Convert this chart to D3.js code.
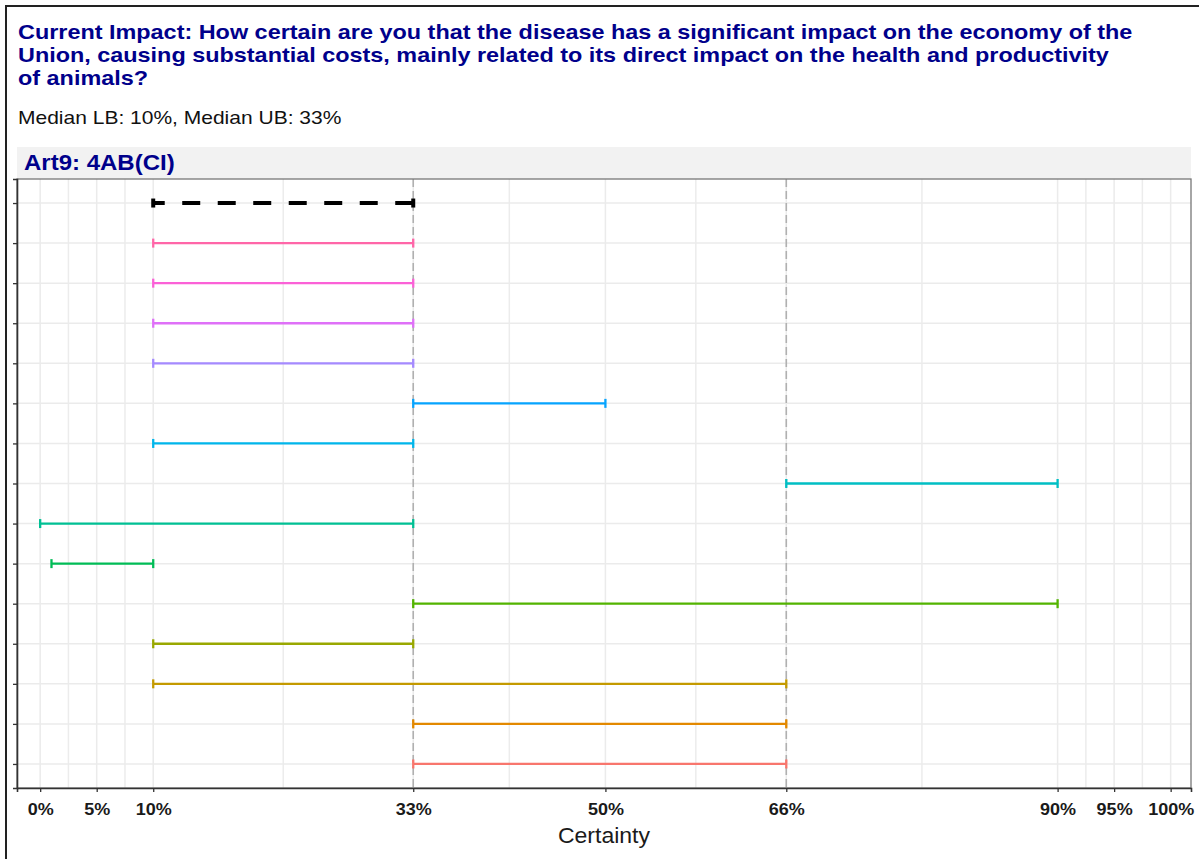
<!DOCTYPE html>
<html><head><meta charset="utf-8">
<script src="https://cdn.jsdelivr.net/npm/d3@7"></script>
<style>body{margin:0;background:#fff}svg{display:block;font-family:"Liberation Sans",Arial,sans-serif}</style>
</head><body>
<svg id="chart" width="1199" height="859"></svg>
<script>
// ---- data ----
const titleLines = [
  "Current Impact: How certain are you that the disease has a significant impact on the economy of the",
  "Union, causing substantial costs, mainly related to its direct impact on the health and productivity",
  "of animals?"
];
const subtitle = "Median LB: 10%, Median UB: 33%";
const stripLabel = "Art9: 4AB(CI)";
const experts = ["E1","E2","E3","E4","E5","E6","E7","E8","E9","E10","E11","E12","E13","E14"];
const lowerBounds = [33,33,10,10,33,1,0,66,10,33,10,10,10,10];
const upperBounds = [66,66,66,33,90,10,33,90,33,50,33,33,33,33];
const medianLB = 10, medianUB = 33;
const xTicks = [0,5,10,33,50,66,90,95,100];
const refLines = [33,66];
const xTitle = "Certainty";

// ggplot-style hue palette (polar LUV)
function hclLuv(h, c, l) {
  const Xn=95.047, Yn=100, Zn=108.883;
  const hr=h*Math.PI/180, u=c*Math.cos(hr), v=c*Math.sin(hr);
  const Y = l>8 ? Yn*Math.pow((l+16)/116,3) : Yn*l/903.3;
  const d=Xn+15*Yn+3*Zn, u0=4*Xn/d, v0=9*Yn/d;
  const up=u/(13*l)+u0, vp=v/(13*l)+v0;
  const X=9*Y*up/(4*vp), Z=-X/3-5*Y+3*Y/vp;
  const x=X/100,y=Y/100,z=Z/100;
  const lin=[3.240479*x-1.537150*y-0.498535*z, -0.969256*x+1.875992*y+0.041556*z, 0.055648*x-0.204043*y+1.057311*z];
  const g=lin.map(t=>{t=t>0.00304?1.055*Math.pow(t,1/2.4)-0.055:12.92*t;return Math.round(255*Math.max(0,Math.min(1,t)));});
  return d3.rgb(g[0],g[1],g[2]).formatHex();
}
const n = experts.length;
const palette = d3.range(n).map(i => hclLuv(15 + 360*i/n, 100, 65));

const rows = experts.map((e,i)=>({id:e, lo:lowerBounds[i], hi:upperBounds[i], color:palette[i], median:false}));
rows.push({id:"Median", lo:medianLB, hi:medianUB, color:"#000", median:true});

// horizontally stretch text (reference glyphs are wider than tall)
function stretch(sel, k) {
  sel.each(function(){
    const len = this.getComputedTextLength();
    d3.select(this).attr("textLength", len*k).attr("lengthAdjust","spacingAndGlyphs");
  });
}

// ---- layout ----
const svg = d3.select("#chart");
svg.append("rect").attr("width",1199).attr("height",859).attr("fill","#fff");
// outer frame (left and top)
svg.append("path").attr("d","M6,859V6H1199").attr("fill","none").attr("stroke","#222").attr("stroke-width",2);

const P = {left:17, right:1191, top:179, bottom:788};
const x = d3.scaleLinear().domain([-2.05,101.8]).range([P.left,P.right]);
const y = d3.scalePoint().domain(rows.map(r=>r.id).reverse()).range([P.top,P.bottom]).padding(0.6);

// titles
const navy = "#00008B";
svg.append("g").selectAll("text").data(titleLines).join("text")
  .attr("x",18).attr("y",(d,i)=>39+i*23).attr("fill",navy)
  .attr("font-weight","bold").attr("font-size",20.5).text(d=>d)
  .call(stretch, 23.4/20.5);
svg.append("text").attr("x",18).attr("y",124).attr("font-size",19).attr("fill","#111").text(subtitle)
  .call(stretch, 21/19);

// strip
svg.append("rect").attr("x",P.left).attr("y",147).attr("width",P.right-P.left).attr("height",P.top-147).attr("fill","#f2f2f2");
svg.append("text").attr("x",24).attr("y",170).attr("fill",navy).attr("font-weight","bold").attr("font-size",22).text(stripLabel)
  .call(stretch, 24/22);

// grid
const minor = [];
for (let i=0;i<xTicks.length-1;i++) minor.push((xTicks[i]+xTicks[i+1])/2);
const grid = svg.append("g");
grid.selectAll(".vmin").data(minor).join("line")
  .attr("x1",d=>x(d)).attr("x2",d=>x(d)).attr("y1",P.top).attr("y2",P.bottom)
  .attr("stroke","#ececec").attr("stroke-width",1.5);
grid.selectAll(".vmaj").data(xTicks).join("line")
  .attr("x1",d=>x(d)).attr("x2",d=>x(d)).attr("y1",P.top).attr("y2",P.bottom)
  .attr("stroke","#ebebeb").attr("stroke-width",1.5);
grid.selectAll(".h").data(y.domain()).join("line")
  .attr("x1",P.left).attr("x2",P.right).attr("y1",d=>y(d)).attr("y2",d=>y(d))
  .attr("stroke","#ebebeb").attr("stroke-width",1.5);

// reference dashed lines
svg.append("g").selectAll("line").data(refLines).join("line")
  .attr("x1",d=>x(d)).attr("x2",d=>x(d)).attr("y1",P.top).attr("y2",P.bottom)
  .attr("stroke","#b0b0b0").attr("stroke-width",1.6).attr("stroke-dasharray","8,4");

// error bars
const bars = svg.append("g").selectAll("g").data(rows).join("g");
bars.append("line")
  .attr("x1",d=>x(d.hi)).attr("x2",d=>x(d.lo)).attr("y1",d=>y(d.id)).attr("y2",d=>y(d.id))
  .attr("stroke",d=>d.color).attr("stroke-width",d=>d.median?4:2.3)
  .attr("stroke-dasharray",d=>d.median?"18,17.5":null);
bars.selectAll(".cap").data(d=>[{v:d.lo,r:d},{v:d.hi,r:d}]).join("line")
  .attr("x1",c=>x(c.v)).attr("x2",c=>x(c.v))
  .attr("y1",c=>y(c.r.id)-4.5).attr("y2",c=>y(c.r.id)+4.5)
  .attr("stroke",c=>c.r.color).attr("stroke-width",c=>c.r.median?4:2.3);

// panel border
svg.append("rect").attr("x",P.left).attr("y",P.top).attr("width",P.right-P.left).attr("height",P.bottom-P.top)
  .attr("fill","none").attr("stroke","#777").attr("stroke-width",1.3);

// axes
const xAxis = svg.append("g").attr("transform",`translate(0,${P.bottom})`)
  .call(d3.axisBottom(x).tickValues(xTicks).tickFormat(d=>d+"%").tickSize(4).tickPadding(11));
xAxis.select(".domain").attr("stroke","#333").attr("stroke-width",1.6);
xAxis.selectAll(".tick line").attr("stroke","#333").attr("stroke-width",1.3);
xAxis.selectAll("text").attr("font-size",17).attr("font-weight","bold").attr("fill","#1a1a1a")
  .attr("font-family","'Liberation Sans',Arial,sans-serif").call(stretch, 18/17);

const yAxis = svg.append("g").attr("transform",`translate(${P.left},0)`)
  .call(d3.axisLeft(y).tickSize(4).tickFormat(""));
yAxis.select(".domain").attr("stroke","#333").attr("stroke-width",1.6);
yAxis.selectAll(".tick line").attr("stroke","#333").attr("stroke-width",1.3);

svg.append("text").attr("x",(P.left+P.right)/2).attr("y",843).attr("text-anchor","middle")
  .attr("font-size",22).attr("fill","#1a1a1a").text(xTitle).call(stretch, 23/22);
</script>
</body></html>
